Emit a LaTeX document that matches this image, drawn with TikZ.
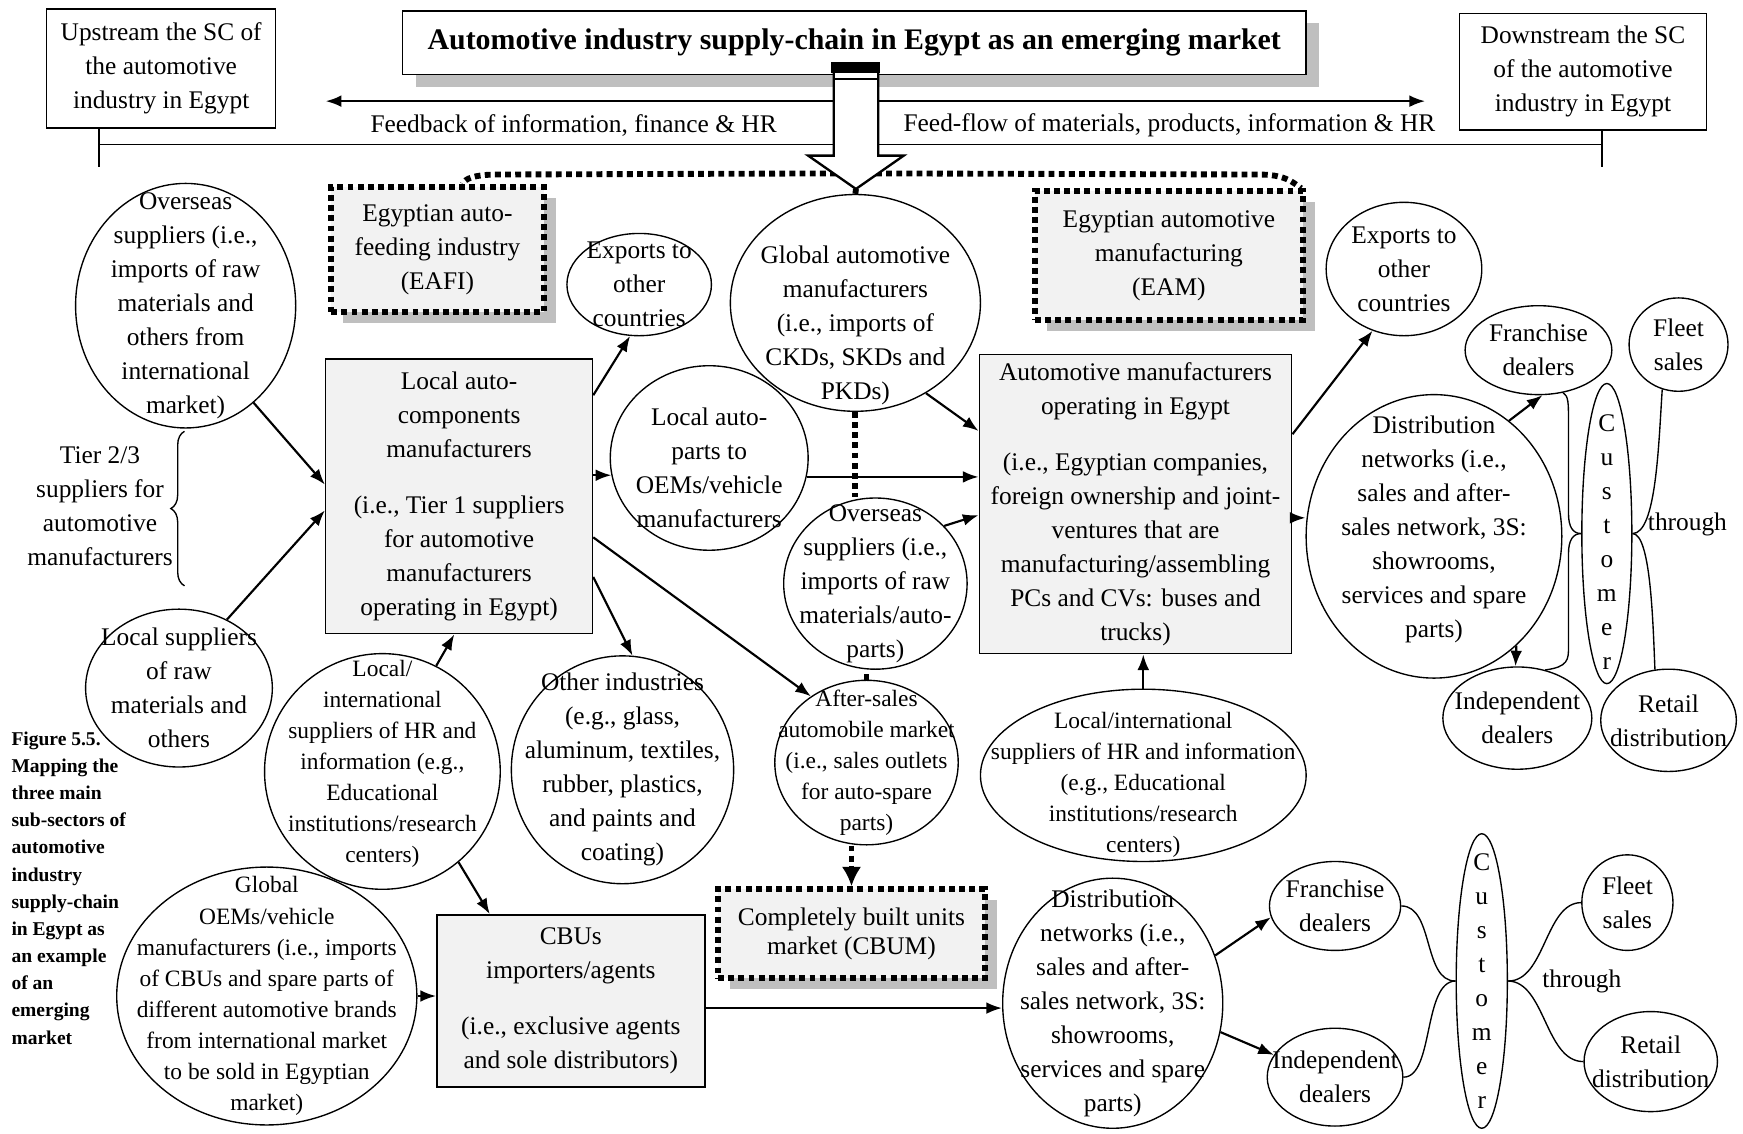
\documentclass[tikz,border=0pt]{standalone}
\usepackage{fontspec}
\setmainfont{Liberation Serif}
\usetikzlibrary{shapes.geometric, arrows.meta, shadows, decorations.pathreplacing}

\begin{document}
\begin{tikzpicture}[
    x=0.02cm, y=-0.02cm,
    % Node styles
    wh/.style 2 args={minimum width=#1*0.02cm, minimum height=#2*0.02cm},
    txt/.style={align=center, inner sep=0pt, font=\fontsize{13}{17.4}\selectfont},
    small txt/.style={txt, font=\fontsize{12}{15.9}\selectfont},
    oval/.style={txt, ellipse, draw, line width=0.7pt, inner sep=-4cm},
    small oval/.style={oval, font=\fontsize{12}{15.9}\selectfont},
    frame box/.style={txt, rectangle, draw, line width=0.8pt},
    grey box/.style={frame box, fill=gray!10},
    sector box/.style={
        grey box,
        line width=3pt,
        dash pattern=on 3pt off 2.2pt,
        general shadow={fill=gray!50, shadow xshift=0.22cm, shadow yshift=-0.2cm}
    },
    caption txt/.style={align=left, inner sep=0pt, font=\fontsize{10}{13.9}\selectfont\bfseries},
    % Connector styles
    arr/.style={-{Latex[length=8pt, width=6pt]}, line width=1.1pt},
    dotline/.style={line width=3pt, dash pattern=on 3pt off 2.2pt},
    dotarr/.style={dotline, -{Latex[length=10pt, width=10pt]}},
    bracket/.style={line width=0.7pt}
]

\useasboundingbox (0,0) rectangle (1568,1020);

% Upstream / downstream frame and title
\node[frame box, wh={206}{107}] (up) at (145,61.5) {Upstream the SC of\\the automotive\\industry in Egypt};
\node[frame box, wh={222}{105}] (down) at (1424,64.5) {Downstream the SC\\of the automotive\\industry in Egypt};
\node[frame box, wh={813}{57}, fill=white,
      general shadow={fill=gray!50, shadow xshift=0.24cm, shadow yshift=-0.22cm},
      font=\fontsize{15.3}{18}\selectfont\bfseries] (title) at (768.5,38.5)
      {Automotive industry supply-chain in Egypt as an emerging market};

% Two-way flow and its labels
\coordinate (fb end) at (293,91);
\coordinate (ff end) at (1282,91);
\draw[{Latex[length=8pt, width=6pt]}-{Latex[length=8pt, width=6pt]}, line width=1.1pt] (fb end) -- (ff end);
\node[txt] (fb label) at (516,113) {Feedback of information, finance \& HR};
\node[txt] (ff label) at (1052,113) {Feed-flow of materials, products, information \& HR};

% Bracket over the whole chain
\coordinate (span l) at (89,130);
\coordinate (span r) at (1441,130);
\draw[bracket] (up.south -| span l) -- (span l) -- (span r) -- (down.south -| span r);
\draw[bracket] (span l) -- ++(0,20);
\draw[bracket] (span r) -- ++(0,20);

% Sub-sector boxes
\node[sector box, wh={191}{113}] (eafi) at (393.5,224.5) {Egyptian auto-\\feeding industry\\(EAFI)};
\node[sector box, wh={241}{116}] (eam) at (1051.5,230) {Egyptian automotive\\manufacturing\\(EAM)};
\node[sector box, wh={240}{80}, font=\fontsize{13}{15}\selectfont] (cbum) at (766,840) {Completely built units\\market (CBUM)};

% Tier 2/3 suppliers
\node[oval, wh={198}{220}] (ovsL) at (167,275) {Overseas\\suppliers (i.e.,\\imports of raw\\materials and\\others from\\international\\market)};
\node[oval, wh={168}{142}] (lsp) at (161,619) {Local suppliers\\of raw\\materials and\\others};
\node[txt] (tier) at (90,455) {Tier 2/3\\suppliers for\\automotive\\manufacturers};
\coordinate (tier top) at (166,388);
\coordinate (tier bot) at (166,527);
\draw[bracket, decorate, decoration={brace, amplitude=7pt}] (tier bot) -- (tier top);

% Auto-feeding industry
\node[grey box, wh={240}{247}] (lac) at (413,446.5) {Local auto-\\components\\manufacturers\\[11pt](i.e., Tier 1 suppliers\\for automotive\\manufacturers\\operating in Egypt)};
\node[oval, wh={130}{92}] (exL) at (575,256) {Exports to\\other\\countries};
\node[oval, wh={178}{166}] (lap) at (638,412) {};
\node[txt] (lap-t) at (638,420.5) {Local auto-\\parts to\\OEMs/vehicle\\manufacturers};
\node[small oval, wh={212}{212}] (hrL) at (344,694) {};
\node[small txt] (hrL-t) at (344,687) {Local/\\international\\suppliers of HR and\\information (e.g.,\\Educational\\institutions/research\\centers)};
\node[oval, wh={200}{205}] (oth) at (560,692.5) {Other industries\\(e.g., glass,\\aluminum, textiles,\\rubber, plastics,\\and paints and\\coating)};
\node[small oval, wh={165}{148}] (afs) at (779.5,686) {After-sales\\automobile market\\(i.e., sales outlets\\for auto-spare\\parts)};

% Automotive manufacturing
\node[oval, wh={225}{195}] (gam) at (769.5,272.5) {};
\node[txt] (gam-t) at (769.5,292.5) {Global automotive\\manufacturers\\(i.e., imports of\\CKDs, SKDs and\\PKDs)};
\node[oval, wh={165}{154}] (ovm) at (787.5,525) {Overseas\\suppliers (i.e.,\\imports of raw\\materials/auto-\\parts)};
\node[grey box, wh={281}{269}] (amb) at (1021.5,453.5) {Automotive manufacturers\\operating in Egypt\\[11pt](i.e., Egyptian companies,\\foreign ownership and joint-\\ventures that are\\manufacturing/assembling\\PCs and CVs: buses and\\trucks)};
\node[oval, wh={293}{155}] (hrR) at (1028.5,697.5) {};
\node[small txt] (hrR-t) at (1028.5,706) {Local/international\\suppliers of HR and information\\(e.g., Educational\\institutions/research\\centers)};
\node[oval, wh={140}{120}] (exR) at (1263,242) {Exports to\\other\\countries};

% Downstream of local manufacturing
\node[oval, wh={230}{255}] (dsT) at (1290,482.5) {};
\node[txt] (dsT-t) at (1290,476.5) {Distribution\\networks (i.e.,\\sales and after-\\sales network, 3S:\\showrooms,\\services and spare\\parts)};
\node[oval, wh={132}{80}] (fdT) at (1384,315) {Franchise\\dealers};
\node[oval, wh={134}{92}] (idT) at (1365,646) {Independent\\dealers};
\node[oval, wh={45}{270}] (cuT) at (1445.5,480) {};
\node[txt] (cuT-t) at (1445.5,488) {C\\u\\s\\t\\o\\m\\e\\r};
\node[oval, wh={89}{84}] (flT) at (1510,310) {Fleet\\sales};
\node[oval, wh={122}{92}] (rdT) at (1501,648) {Retail\\distribution};
\node[txt] (thrT) at (1518,472) {through};

% Completely built units
\node[small oval, wh={270}{232}] (gob) at (240,896) {Global\\OEMs/vehicle\\manufacturers (i.e., imports\\of CBUs and spare parts of\\different automotive brands\\from international market\\to be sold in Egyptian\\market)};
\node[grey box, wh={241}{155}] (cbu) at (513.5,900.5) {CBUs\\importers/agents\\[11pt](i.e., exclusive agents\\and sole distributors)};
\node[oval, wh={198}{225}] (dsB) at (1001,902.5) {Distribution\\networks (i.e.,\\sales and after-\\sales network, 3S:\\showrooms,\\services and spare\\parts)};
\node[oval, wh={118}{80}] (fdB) at (1201,815) {Franchise\\dealers};
\node[oval, wh={122}{88}] (idB) at (1201,969) {Independent\\dealers};
\node[oval, wh={46}{265}] (cuB) at (1333,882.5) {C\\u\\s\\t\\o\\m\\e\\r};
\node[oval, wh={82}{86}] (flB) at (1464,812) {Fleet\\sales};
\node[oval, wh={120}{90}] (rdB) at (1485,955) {Retail\\distribution};
\node[txt] (thrB) at (1423,883) {through};

% Caption
\node[caption txt, anchor=north west] (caption) at (10,658) {Figure 5.5.\\Mapping the\\three main\\sub-sectors of\\automotive\\industry\\supply-chain\\in Egypt as\\an example\\of an\\emerging\\market};

% Feeding flows
\draw[arr] (ovsL.-55) -- (lac.175);
\draw[arr] (lsp.55) -- (lac.186);
\draw[arr] (lac.37) -- (exL.-100);
\draw[arr] (lac.east |- lap.190) -- (lap.190);
\draw[arr] (lac.-31) -- (oth.85);
\draw[arr] (lac.-17) -- (afs.130);
\draw[arr] (hrL.63) -- (lac.-92);
\draw[arr] (hrL.-50) -- (cbu.133);

% Manufacturing flows
\draw[arr] (gam.-52) -- (amb.155);
\draw[arr] (lap.-11) -- (lap.-11 -| amb.west);
\draw[arr] (ovm.40) -- (amb.184);
\draw[arr] (hrR.north) -- (hrR.north |- amb.south);
\draw[arr] (amb.24) -- (exR.-117);
\draw[arr] (amb.-5) -- (amb.-5 -| dsT.west);
\draw[arr] (dsT.57) -- (fdT.-85);
\draw[arr] (dsT.-53) -- (idT.92);

% CBU flows
\draw[arr] (gob.east) -- (gob.east -| cbu.west);
\draw[arr] (cbu.-3) -- (cbu.-3 -| dsB.west);
\draw[arr] (dsB.25) -- (fdB.190);
\draw[arr] (dsB.-15) -- (idB.160);

% Dealers to customer to channels
\draw[bracket] (fdT.-60) .. controls (1411,356) and (1411,363) .. (1411,378) -- (1411,462) .. controls (1411,474) and (1415,480) .. (cuT.west);
\draw[bracket] (idT.60) .. controls (1411,600) and (1411,593) .. (1411,582) -- (1411,498) .. controls (1411,486) and (1415,480) .. (cuT.west);
\draw[bracket] (cuT.east) .. controls (1490,480) and (1492,400) .. (flT.-110);
\draw[bracket] (cuT.east) .. controls (1485,480) and (1487,560) .. (rdT.105);
\draw[bracket] (fdB.east) .. controls (1290,815) and (1280,883) .. (cuB.west);
\draw[bracket] (idB.east) .. controls (1290,969) and (1280,883) .. (cuB.west);
\draw[bracket] (cuB.east) .. controls (1390,883) and (1390,812) .. (flB.west);
\draw[bracket] (cuB.east) .. controls (1390,883) and (1390,955) .. (rdB.west);

% Dotted sub-sector links
\coordinate (head tip) at (770,170);
\draw[dotline] (752,156) -- (448,157) .. controls (426,157) and (418,161) .. (eafi.69);
\draw[dotline] (788,156) -- (1132,157) .. controls (1155,157) and (1162,163) .. (eam.27.5);
\draw[dotline] (head tip) -- (gam.north);
\draw[dotline] (gam.south) -- (gam.south |- ovm.north);
\draw[dotline] (afs.north) -- (afs.north |- ovm.south);
\draw[dotarr] (afs.south -| cbum.north) -- (cbum.north);

% Main downward arrow
\draw[line width=1.2pt, fill=white] (750,62) -- (750,140) -- (727,140) -- (head tip) -- (813,140) -- (790,140) -- (790,62) -- cycle;
\fill (748,56) rectangle (792,66);
\draw[line width=1.2pt] (750,71) -- (790,71);

\end{tikzpicture}
\end{document}
